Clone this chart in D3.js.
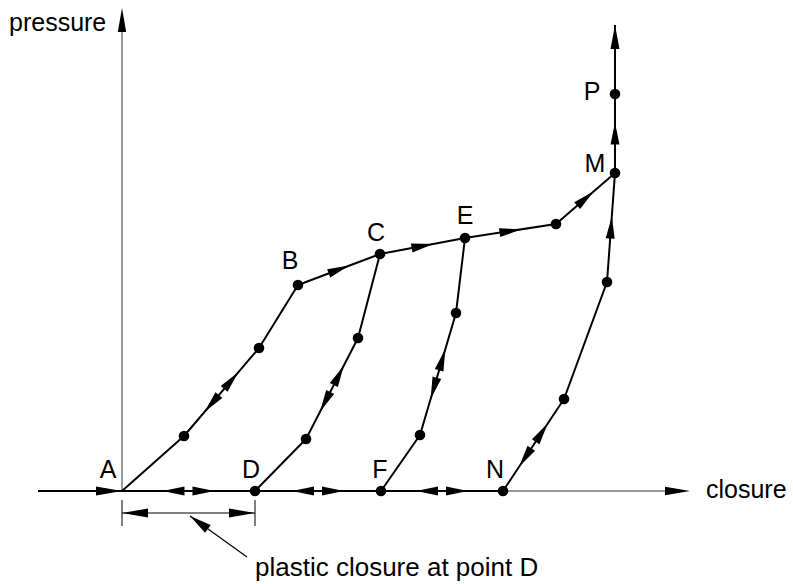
<!DOCTYPE html>
<html>
<head>
<meta charset="utf-8">
<script src="https://cdn.jsdelivr.net/npm/d3@7"></script>
<style>
	body { margin: 0; background: #fff; }
	svg { display: block; }
	text { font-family: 'Liberation Sans', Arial, Helvetica, sans-serif; font-size: 25px; fill: #000; }
</style>
</head>
<body>
<div id="chart"></div>
<script>
// [closure, pressure] (arbitrary units)
const loadPath = [[0, 0], [12.4, 11], [27.4, 28.6], [35.2, 41.2], [51.6, 47.4], [68.6, 50.6], [86.8, 53.4], [98.6, 63.6], [98.6, 79.4], [98.6, 93.2]]
const unloadC = [[51.6, 47.4], [47.2, 30.6], [36.8, 10.4], [26.6, 0]]
const unloadE = [[68.6, 50.6], [66.8, 35.6], [59.6, 11.2], [51.8, 0]]
const unloadM = [[76.2, 0], [88.4, 18.4], [97, 41.8], [98.6, 63.6]]
const baseline = [[-16.8, 0], [0, 0], [26.6, 0], [51.8, 0], [76.2, 0]]
const pointNames = ['A', 'B', 'C', 'D', 'E', 'F', 'M', 'N', 'P']
const pointCoords = [[0, 0], [35.2, 41.2], [51.6, 47.4], [26.6, 0], [68.6, 50.6], [51.8, 0], [98.6, 63.6], [76.2, 0], [98.6, 79.4]]
const axisExtent = { closure: [0, 113.6], pressure: [0, 96.6] }
const axisTitles = ['closure', 'pressure']
const note = 'plastic closure at point D'

const chart = {
	width: 793,
	height: 584,

	draw(element) {
		const svg = d3.select(`#${element}`)
			.append('svg')
			.attr('width', this.width)
			.attr('height', this.height)

		const x = d3.scaleLinear().domain([0, 100]).range([122, 622])
		const y = d3.scaleLinear().domain([0, 100]).range([491, -9])
		const pt = d => [x(d[0]), y(d[1])]

		const line = d3.line().x(d => x(d[0])).y(d => y(d[1]))

		// arrowhead with its tip at `tip`, pointing along unit vector u
		const head = (tip, u, len = 22, hw = 4.5) => {
			const b = [tip[0] - u[0] * len, tip[1] - u[1] * len]
			svg.append('path')
				.attr('d', `M${tip[0]},${tip[1]}L${b[0] - u[1] * hw},${b[1] + u[0] * hw}L${b[0] + u[1] * hw},${b[1] - u[0] * hw}Z`)
				.attr('fill', '#000')
		}
		const unit = (p, q) => {
			const dx = q[0] - p[0], dy = q[1] - p[1], l = Math.hypot(dx, dy)
			return [dx / l, dy / l]
		}
		const mid = (p, q) => [(p[0] + q[0]) / 2, (p[1] + q[1]) / 2]
		const single = (a, b) => {
			const p = pt(a), q = pt(b), u = unit(p, q), m = mid(p, q)
			head([m[0] + u[0] * 11, m[1] + u[1] * 11], u)
		}
		const double = (a, b) => {
			const p = pt(a), q = pt(b), u = unit(p, q), m = mid(p, q)
			head([m[0] + u[0] * 26, m[1] + u[1] * 26], u)
			head([m[0] - u[0] * 26, m[1] - u[1] * 26], [-u[0], -u[1]])
		}
		const end = (a, b, len, hw) => {
			const p = pt(a), q = pt(b)
			head(q, unit(p, q), len, hw)
		}

		// axes
		svg.append('line')
			.attr('x1', x(0)).attr('x2', x(0))
			.attr('y1', y(0)).attr('y2', y(axisExtent.pressure[1]) + 20)
			.attr('stroke', '#777').attr('stroke-width', 1.5)
		end([0, 0], [0, axisExtent.pressure[1]], 24, 4.2)

		svg.append('line')
			.attr('x1', x(baseline[baseline.length - 1][0])).attr('x2', x(axisExtent.closure[1]) - 20)
			.attr('y1', y(0)).attr('y2', y(0))
			.attr('stroke', '#777').attr('stroke-width', 1.5)
		end([0, 0], [axisExtent.closure[1], 0], 25, 4.2)

		// loading / unloading paths
		const paths = [baseline, loadPath, unloadC, unloadE, unloadM]
		paths.forEach(d => {
			svg.append('path')
				.attr('d', line(d))
				.attr('fill', 'none')
				.attr('stroke', '#000')
				.attr('stroke-width', 2)
				.attr('stroke-linejoin', 'round')
		})

		// direction arrows
		end(baseline[0], baseline[1], 26, 4.5)
		double(baseline[1], baseline[2])
		double(baseline[2], baseline[3])
		double(baseline[3], baseline[4])
		double(loadPath[1], loadPath[2])
		for (let i = 3; i < 8; i++) single(loadPath[i], loadPath[i + 1])
		end(loadPath[8], loadPath[9], 24, 4.5)
		double(unloadC[1], unloadC[2])
		double(unloadE[1], unloadE[2])
		double(unloadM[0], unloadM[1])
		single(unloadM[2], unloadM[3])

		// dots
		const dots = loadPath.slice(1, 9)
			.concat(unloadC.slice(1), unloadE.slice(1), unloadM.slice(0, 3))
		svg.append('g')
			.selectAll('circle')
			.data(dots)
			.enter()
			.append('circle')
			.attr('cx', d => x(d[0]))
			.attr('cy', d => y(d[1]))
			.attr('r', 5.3)
			.attr('fill', '#000')

		// point labels
		const offsets = { A: [-14, -13], B: [-8, -16], C: [-4, -13], D: [-4, -13], E: [0, -14], F: [-1, -13], M: [-20, -1], N: [-8, -13], P: [-23, 6] }
		svg.append('g')
			.selectAll('text')
			.data(pointNames)
			.enter()
			.append('text')
			.attr('x', (d, i) => x(pointCoords[i][0]) + offsets[d][0])
			.attr('y', (d, i) => y(pointCoords[i][1]) + offsets[d][1])
			.style('text-anchor', 'middle')
			.text(d => d)

		// axis titles
		svg.append('text').attr('x', 706).attr('y', y(0) + 7).text(axisTitles[0])
		svg.append('text').attr('x', 9).attr('y', 31).text(axisTitles[1])

		// plastic closure dimension
		const xa = x(0), xd = x(unloadC[3][0]), base = y(0)
		;[xa, xd].forEach(v => {
			svg.append('line')
				.attr('x1', v).attr('x2', v)
				.attr('y1', base + 9).attr('y2', base + 35)
				.attr('stroke', '#000').attr('stroke-width', 1)
		})
		svg.append('line')
			.attr('x1', xa).attr('x2', xd)
			.attr('y1', base + 22).attr('y2', base + 22)
			.attr('stroke', '#000').attr('stroke-width', 1.2)
		head([xa, base + 22], [-1, 0], 26, 4.5)
		head([xd, base + 22], [1, 0], 26, 4.5)

		const lead = [[190, base + 25], [247, base + 66]]
		svg.append('line')
			.attr('x1', lead[0][0]).attr('y1', lead[0][1])
			.attr('x2', lead[1][0]).attr('y2', lead[1][1])
			.attr('stroke', '#000').attr('stroke-width', 1.2)
		head(lead[0], unit(lead[1], lead[0]), 22, 4.8)

		svg.append('text').attr('x', 255).attr('y', base + 85)
			.style('font-size', '26px')
			.text(note)
	}
}

chart.draw('chart')
</script>
</body>
</html>
